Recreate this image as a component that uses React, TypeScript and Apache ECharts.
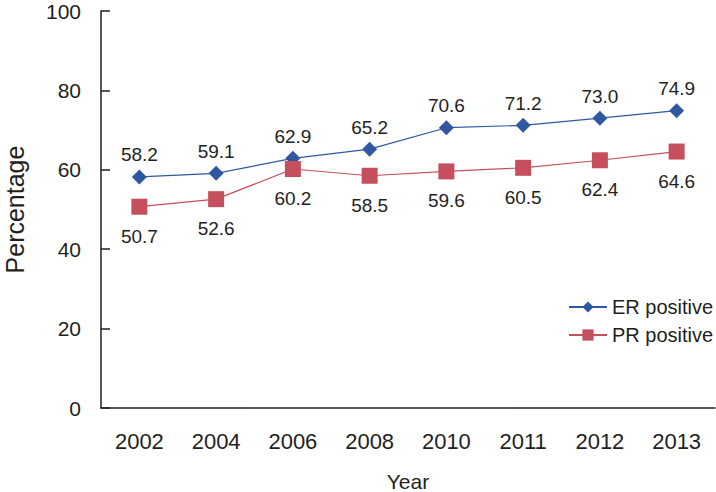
import React, { useEffect, useRef } from "react";
import * as echarts from "echarts";

const years = ["2002", "2004", "2006", "2008", "2010", "2011", "2012", "2013"];
const erPositive = [58.2, 59.1, 62.9, 65.2, 70.6, 71.2, 73.0, 74.9];
const prPositive = [50.7, 52.6, 60.2, 58.5, 59.6, 60.5, 62.4, 64.6];
const yTicks = [0, 20, 40, 60, 80, 100];

const FONT = "Liberation Sans, Arial, sans-serif";
const TEXT = "#231f20";
const BLUE = "#2f58a0";
const RED = "#c64f5e";

export default function App() {
  const ref = useRef<HTMLDivElement>(null);
  useEffect(() => {
    if (!ref.current) return;
    const chart = echarts.init(ref.current, undefined, { renderer: "svg" });
    chart.setOption({
      animation: false,
      backgroundColor: "#ffffff",
      textStyle: { fontFamily: FONT },
      grid: { left: 101, right: 1, top: 11, bottom: 84, outerBoundsMode: "none", containLabel: false },
      legend: {
        orient: "vertical",
        left: 563,
        top: 292,
        itemWidth: 38,
        itemHeight: 14,
        itemGap: 8,
        textStyle: { fontFamily: FONT, fontSize: 20, color: TEXT },
        data: ["ER positive", "PR positive"],
      },
      xAxis: {
        type: "category",
        data: years,
        boundaryGap: true,
        name: "Year",
        nameLocation: "middle",
        nameGap: 63,
        nameTextStyle: { fontFamily: FONT, fontSize: 21, color: TEXT },
        axisLine: { lineStyle: { color: TEXT, width: 1.5 } },
        axisTick: { inside: true, length: 9, lineStyle: { color: TEXT, width: 1.5 } },
        axisLabel: { fontFamily: FONT, fontSize: 22, color: TEXT, margin: 22 },
      },
      yAxis: {
        type: "value",
        min: yTicks[0],
        max: yTicks[yTicks.length - 1],
        interval: 20,
        name: "Percentage",
        nameLocation: "middle",
        nameGap: 74,
        nameTextStyle: { fontFamily: FONT, fontSize: 25, color: TEXT },
        splitLine: { show: false },
        axisLine: { show: true, lineStyle: { color: TEXT, width: 1.5 } },
        axisTick: { show: true, inside: true, length: 9, lineStyle: { color: TEXT, width: 1.5 } },
        axisLabel: { fontFamily: FONT, fontSize: 21, color: TEXT, margin: 20 },
      },
      series: [
        {
          name: "ER positive",
          type: "line",
          data: erPositive,
          symbol: "diamond",
          symbolSize: 15,
          color: BLUE,
          lineStyle: { color: BLUE, width: 1.2 },
          itemStyle: { color: BLUE },
          label: {
            show: true,
            position: "top",
            distance: 5,
            formatter: (p: any) => p.value.toFixed(1),
            fontFamily: FONT,
            fontSize: 19,
            color: TEXT,
          },
        },
        {
          name: "PR positive",
          type: "line",
          data: prPositive,
          symbol: "rect",
          symbolSize: 16,
          color: RED,
          lineStyle: { color: RED, width: 1.2 },
          itemStyle: { color: RED },
          label: {
            show: true,
            position: "bottom",
            distance: 12,
            formatter: (p: any) => p.value.toFixed(1),
            fontFamily: FONT,
            fontSize: 19,
            color: TEXT,
          },
        },
      ],
    });
    return () => chart.dispose();
  }, []);
  return <div ref={ref} style={{ width: 716, height: 492, position: "fixed", left: 0, top: 0 }} />;
}
